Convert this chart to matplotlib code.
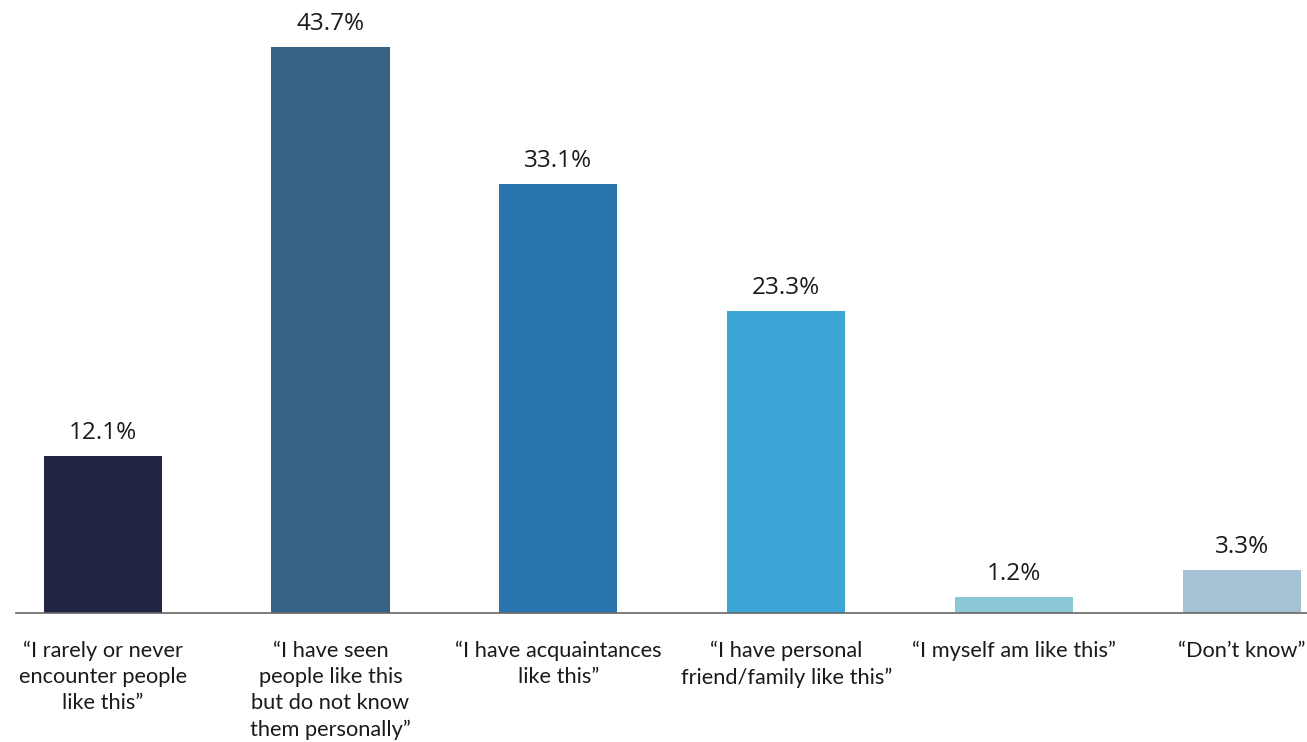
import matplotlib
matplotlib.use('Agg')
import matplotlib.pyplot as plt

categories = [
    '\u201cI rarely or never\nencounter people\nlike this\u201d',
    '\u201cI have seen\npeople like this\nbut do not know\nthem personally\u201d',
    '\u201cI have acquaintances\nlike this\u201d',
    '\u201cI have personal\nfriend/family like this\u201d',
    '\u201cI myself am like this\u201d',
    '\u201cDon\u2019t know\u201d',
]
values = [12.1, 43.7, 33.1, 23.3, 1.2, 3.3]
colors = ['#212443', '#386283', '#2a75ae', '#3ba5d5', '#89c8d4', '#a6c2d4']

fig = plt.figure(figsize=(13.07, 7.42), dpi=100)
ax = fig.add_axes([16 / 1307, 1 - 613 / 742, 1 - 16 / 1307, 613 / 742])

x = range(len(values))
bars = ax.bar(x, values, width=0.518, color=colors)

for xi, v in zip(x, values):
    ax.annotate(f'{v:.1f}%', (xi, v), xytext=(0, 8), textcoords='offset points',
                ha='center', va='bottom', fontsize=17.5,
                family=['Open Sans', 'DejaVu Sans'], color='#1a1a1a')

ax.set_xlim(-0.38, 5.285)
ax.set_ylim(0, 47.3)
ax.set_xticks(list(x))
ax.set_xticklabels(categories, fontsize=15.7, family='Lato', color='#1a1a1a',
                   linespacing=1.38, va='top')
ax.tick_params(axis='x', length=0, pad=20)
ax.set_yticks([])
for s in ['top', 'right', 'left']:
    ax.spines[s].set_visible(False)
ax.spines['bottom'].set_color('#666666')
ax.spines['bottom'].set_linewidth(1.2)

fig.savefig('out.png', dpi=100)
